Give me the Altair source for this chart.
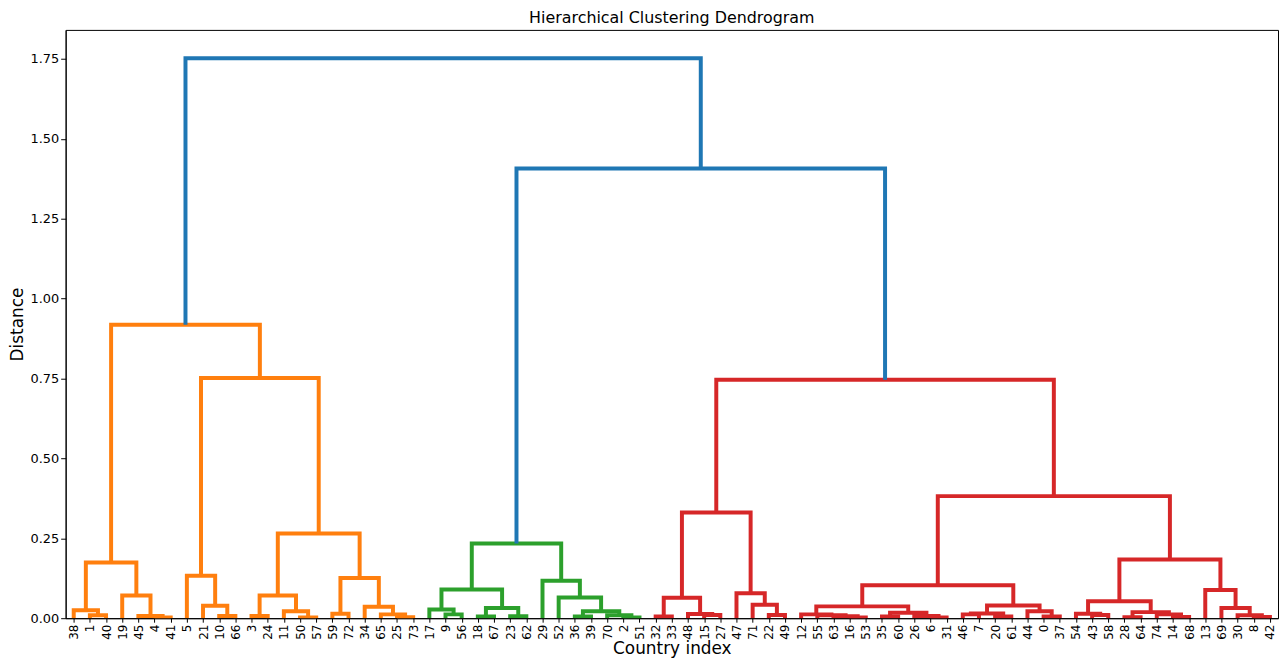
import altair as alt
import pandas as pd

leaf_order = [38, 1, 40, 19, 45, 4, 41, 5, 21, 10, 66, 3, 24, 11, 50, 57, 59, 72, 34, 65, 25, 73,
              17, 9, 56, 18, 67, 23, 62, 29, 52, 36, 39, 70, 2, 51,
              32, 33, 48, 15, 27, 47, 71, 22, 49, 12, 55, 63, 16, 53, 35, 60, 26, 6, 31,
              46, 7, 20, 61, 44, 0, 37, 54, 43, 58, 28, 64, 74, 14, 68, 13, 69, 30, 8, 42]

# merges: (name, left child, right child, distance); ints are leaves, strings are clusters
orange_merges = [
    ("a1", 1, 40, 0.009), ("a2", 38, "a1", 0.025), ("a3", 4, 41, 0.002), ("a4", 45, "a3", 0.007),
    ("a5", 19, "a4", 0.071), ("A", "a2", "a5", 0.174),
    ("b1", 10, 66, 0.007), ("b2", 21, "b1", 0.039), ("B", 5, "b2", 0.133),
    ("c1", 3, 24, 0.007), ("c2", 50, 57, 0.002), ("c3", 11, "c2", 0.022), ("C", "c1", "c3", 0.071),
    ("d1", 59, 72, 0.014), ("d2", 25, 73, 0.003), ("d3", 65, "d2", 0.012), ("d4", 34, "d3", 0.036),
    ("D", "d1", "d4", 0.126),
    ("CD", "C", "D", 0.265), ("BCD", "B", "CD", 0.752), ("O", "A", "BCD", 0.918),
]
green_merges = [
    ("g1", 9, 56, 0.012), ("g2", 17, "g1", 0.027), ("g3", 18, 67, 0.005), ("g4", 23, 62, 0.006),
    ("g5", "g3", "g4", 0.032), ("G1", "g2", "g5", 0.090),
    ("g6", 36, 39, 0.005), ("g7", 2, 51, 0.002), ("g8", 70, "g7", 0.009), ("g9", "g6", "g8", 0.022),
    ("g10", 52, "g9", 0.065), ("G2", 29, "g10", 0.117),
    ("G", "G1", "G2", 0.234),
]
red_merges = [
    ("r1", 32, 33, 0.005), ("r2", 15, 27, 0.010), ("r3", 48, "r2", 0.013), ("R1", "r1", "r3", 0.064),
    ("r4", 22, 49, 0.010), ("r5", 71, "r4", 0.042), ("R2", 47, "r5", 0.078),
    ("R12", "R1", "R2", 0.331),
    ("r6", 16, 53, 0.002), ("r7", 63, "r6", 0.006), ("r8", 55, "r7", 0.009), ("r9", 12, "r8", 0.012),
    ("r10", 35, 60, 0.005), ("r11", 6, 31, 0.002), ("r12", 26, "r11", 0.007), ("r13", "r10", "r12", 0.017),
    ("R3", "r9", "r13", 0.037),
    ("r14", 46, 7, 0.012), ("r15", 20, 61, 0.005), ("r16", "r14", "r15", 0.015),
    ("r17", 0, 37, 0.005), ("r18", 44, "r17", 0.022), ("R4", "r16", "r18", 0.040),
    ("R34", "R3", "R4", 0.103),
    ("r19", 43, 58, 0.010), ("r20", 54, "r19", 0.014), ("r21", 28, 64, 0.003), ("r22", 14, 68, 0.004),
    ("r23", 74, "r22", 0.012), ("r24", "r21", "r23", 0.019), ("R5", "r20", "r24", 0.053),
    ("r25", 8, 42, 0.004), ("r26", 30, "r25", 0.009), ("r27", 69, "r26", 0.032), ("R6", 13, "r27", 0.088),
    ("R56", "R5", "R6", 0.184), ("R3456", "R34", "R56", 0.382), ("R", "R12", "R3456", 0.746),
]
blue_merges = [("GR", "G", "R", 1.407), ("ALL", "O", "GR", 1.752)]

group_names = ["orange", "green", "red", "blue"]
group_colors = ["#ff7f0e", "#2ca02c", "#d62728", "#1f77b4"]
y_ticks = [0.0, 0.25, 0.5, 0.75, 1.0, 1.25, 1.5, 1.75]

node_x = {lab: i for i, lab in enumerate(leaf_order)}
node_h = {lab: 0.0 for lab in leaf_order}
rows = []
for grp, merges in zip(group_names, [orange_merges, green_merges, red_merges, blue_merges]):
    for name, l, r, h in merges:
        xl, hl = node_x[l], node_h[l]
        xr, hr = node_x[r], node_h[r]
        for k, (px, py) in enumerate([(xl, hl), (xl, h), (xr, h), (xr, hr)]):
            rows.append({"link": name, "k": k, "x": px, "y": py, "grp": grp})
        node_x[name] = (xl + xr) / 2
        node_h[name] = h
df = pd.DataFrame(rows)

label_expr = "[" + ",".join("'%s'" % v for v in leaf_order) + "][datum.value]"

chart = alt.Chart(df).mark_line(strokeWidth=4, clip=True, strokeJoin="miter").encode(
    x=alt.X("x:Q", scale=alt.Scale(domain=[-0.5, len(leaf_order) - 0.5], nice=False, zero=False),
            axis=alt.Axis(values=list(range(len(leaf_order))), labelExpr=label_expr, title="Country index",
                          grid=False, labelAngle=270, labelFontSize=12, tickSize=4, labelPadding=2,
                          titlePadding=1, labelFlush=False, labelOverlap=False)),
    y=alt.Y("y:Q", scale=alt.Scale(domain=[0, 1.841], nice=False),
            axis=alt.Axis(values=y_ticks, format=".2f", title="Distance", grid=False, labelFontSize=13,
                          tickSize=5, titlePadding=3, labelFlush=False)),
    detail="link:N",
    order="k:Q",
    color=alt.Color("grp:N", scale=alt.Scale(domain=group_names, range=group_colors), legend=None),
).properties(
    width=1220,
    height=592,
    padding={"left": 58, "top": 20, "right": 1, "bottom": 38},
    autosize=alt.AutoSizeParams(type="none"),
    title=alt.TitleParams("Hierarchical Clustering Dendrogram", fontSize=16, font="DejaVu Sans",
                          fontWeight="normal", anchor="middle", offset=4, color="black"),
).configure_view(stroke="black", strokeWidth=1).configure_axis(
    labelFont="DejaVu Sans", titleFont="DejaVu Sans", labelColor="black", titleColor="black",
    tickColor="black", domainColor="black", titleFontWeight="normal", titleFontSize=17,
)

chart.save("out.html", embed_options={"renderer": "svg", "actions": False})
